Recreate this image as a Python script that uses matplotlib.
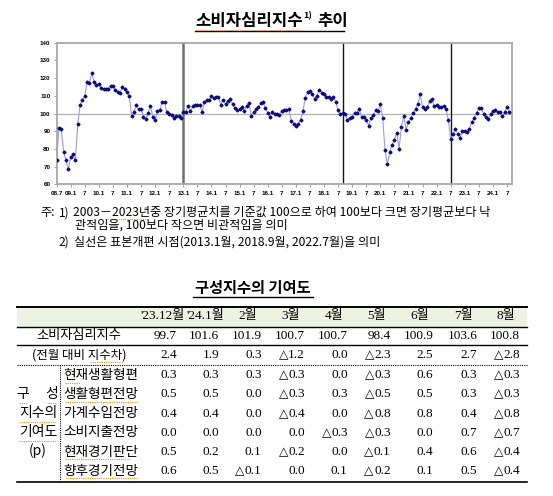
import numpy as np
import matplotlib.pyplot as plt

# ----------------------------------------------------------------------
# data
# ----------------------------------------------------------------------
# monthly consumer sentiment index, 2008.7 ~ 2024.8
ccsi = [74.0, 92.0, 91.0, 78.5, 73.5, 68.5, 75.5, 77.0, 73.5, 94.0,
        105.0, 107.5, 109.8, 117.8, 117.5, 122.6, 117.8, 116.3, 116.9, 114.2,
        114.0, 113.9, 113.9, 115.7, 115.6, 113.1, 112.1, 111.6, 115.0, 113.9,
        112.1, 110.0, 98.5, 101.0, 104.6, 102.3, 102.7, 97.9, 97.0, 100.2,
        104.4, 97.9, 96.6, 101.5, 101.9, 106.3, 106.6, 100.6, 99.8, 99.4,
        97.5, 98.7, 98.7, 97.5, 101.1, 100.8, 104.2, 101.3, 104.0, 104.9,
        104.7, 104.7, 101.1, 106.3, 107.8, 107.4, 109.9, 108.7, 109.3, 109.3,
        104.9, 107.8, 105.1, 107.2, 108.0, 105.5, 103.0, 101.7, 102.7, 103.6,
        101.5, 104.4, 106.1, 98.5, 100.8, 102.3, 103.6, 105.7, 106.3, 103.2,
        100.2, 98.1, 100.8, 99.6, 99.8, 98.9, 101.5, 101.9, 102.1, 102.4,
        96.0, 94.1, 93.0, 94.1, 96.6, 101.5, 108.7, 112.3, 112.5, 111.0,
        108.3, 110.0, 113.5, 111.8, 111.2, 109.5, 109.3, 108.2, 109.3, 106.5,
        101.9, 99.8, 100.4, 100.0, 96.2, 97.5, 98.1, 100.2, 100.4, 102.3,
        98.3, 98.3, 96.4, 93.2, 97.5, 99.0, 101.7, 101.3, 105.3, 97.5,
        79.1, 71.3, 78.2, 82.4, 85.0, 89.0, 80.2, 92.4, 98.7, 90.7,
        95.1, 97.3, 100.2, 102.3, 105.5, 110.8, 103.6, 102.5, 103.6, 107.0,
        108.2, 104.2, 104.7, 103.4, 103.4, 104.0, 102.7, 96.4, 85.6, 88.4,
        91.3, 88.4, 86.1, 89.9, 90.1, 89.8, 91.5, 95.1, 97.5, 100.4,
        103.2, 103.0, 99.8, 97.9, 96.8, 99.7, 101.6, 101.9, 100.7, 100.7,
        98.4, 100.9, 103.6, 100.8]

tick_labels = ["08.7", "09.1", "7", "10.1", "7", "11.1", "7", "12.1", "7",
               "13.1", "7", "14.1", "7", "15.1", "7", "16.1", "7", "17.1", "7",
               "18.1", "7", "19.1", "7", "20.1", "7", "21.1", "7", "22.1", "7",
               "23.1", "7", "24.1", "7"]

start_year, start_month = 2008, 7
revisions = [(2013, 1), (2018, 9), (2022, 7)]

# contribution table
col_labels = ["'23.12월", "'24.1월", "2월", "3월", "4월", "5월", "6월", "7월", "8월"]
ccsi_row = [99.7, 101.6, 101.9, 100.7, 100.7, 98.4, 100.9, 103.6, 100.8]
diff_row = [2.4, 1.9, 0.3, -1.2, 0.0, -2.3, 2.5, 2.7, -2.8]
comp_names = ["현재생활형편", "생활형편전망", "가계수입전망",
              "소비지출전망", "현재경기판단", "향후경기전망"]
cur_living = [0.3, 0.3, 0.3, -0.3, 0.0, -0.3, 0.6, 0.3, -0.3]
fut_living = [0.5, 0.5, 0.0, -0.3, 0.3, -0.5, 0.5, 0.3, -0.3]
income = [0.4, 0.4, 0.0, -0.4, 0.0, -0.8, 0.8, 0.4, -0.8]
spending = [0.0, 0.0, 0.0, 0.0, -0.3, -0.3, 0.0, 0.7, -0.7]
cur_econ = [0.5, 0.2, 0.1, -0.2, 0.0, -0.1, 0.4, 0.6, -0.4]
fut_econ = [0.6, 0.5, -0.1, 0.0, 0.1, -0.2, 0.1, 0.5, -0.4]
comp_rows = [cur_living, fut_living, income, spending, cur_econ, fut_econ]

# ----------------------------------------------------------------------
# figure + pixel overlay
# ----------------------------------------------------------------------
W, H = 553, 496
fig = plt.figure(figsize=(W / 100, H / 100), dpi=100)
fig.patch.set_facecolor('white')

ov = fig.add_axes([0, 0, 1, 1])
ov.set_xlim(0, W)
ov.set_ylim(H, 0)
ov.axis('off')

KR = ['Noto Sans CJK KR', 'DejaVu Sans']
NUM = ['Liberation Serif', 'Noto Sans CJK KR', 'DejaVu Serif']
SPELL = '#e8901e'
renderer = fig.canvas.get_renderer()

def spell(x0, x1, y):
    ov.plot([x0, x1], [y, y], color=SPELL, lw=0.8, ls=(0, (1, 1)))

def right_px(t):
    # right edge of a text object, in overlay pixel coords
    bb = t.get_window_extent(renderer=renderer)
    return bb.x1

# ---- title ----------------------------------------------------------
t1 = ov.text(195, 21, "소비자심리지수", family=KR, fontsize=12, fontweight='bold',
             ha='left', va='center')
x_sup = right_px(t1) + 0.5
t2 = ov.text(x_sup, 16, "1)", family=KR, fontsize=6.5, fontweight='bold',
             ha='left', va='center')
x_end = right_px(t2) + 5
ov.text(x_end, 21, "추이", family=KR, fontsize=12, fontweight='bold',
        ha='left', va='center')
ov.plot([195, 344], [31, 31], color='black', lw=1.0)
spell(195, 300, 29.5)

# ---- line chart -----------------------------------------------------
ax = fig.add_axes([56.6 / W, 1 - 184.3 / H, 455.1 / W, 141.6 / H])
x = np.arange(len(ccsi))
ax.axhline(100, color='#b4b4b4', lw=0.9, zorder=1)
for k, (yy, mm) in enumerate(revisions):
    idx = (yy - start_year) * 12 + (mm - start_month)
    if k == 0:
        ax.axvline(idx, color='#707070', lw=1.8, zorder=1)
    else:
        ax.axvline(idx, color='#151515', lw=1.0, zorder=1)
ax.plot(x, ccsi, color='#9c9ce0', lw=0.8, marker='D', markersize=1.5,
        markerfacecolor='#0a0a80', markeredgecolor='#0a0a80', zorder=3)

ax.set_xlim(0, 194)
ax.set_ylim(60, 140)
ax.set_yticks(np.arange(60, 141, 10))
ax.set_xticks(np.arange(0, len(ccsi), 6))
ax.set_xticklabels(tick_labels)
for lab in ax.get_xticklabels() + ax.get_yticklabels():
    lab.set_family('Liberation Sans')
    lab.set_fontweight('bold')
    lab.set_fontsize(4.5)
ax.tick_params(axis='both', length=2, width=0.6, color='#909090', pad=2.5)
for sp in ax.spines.values():
    sp.set_color('#a8a8a8')
    sp.set_linewidth(1.3)

# ---- notes ----------------------------------------------------------
NFS = 8.7
ov.text(40, 212.7, "주:", family=KR, fontsize=NFS, ha='left', va='center')
ov.text(59, 212.7, "1)", family=KR, fontsize=NFS, ha='left', va='center')
ov.text(73, 212.7, "2003－2023년중 장기평균치를 기준값 100으로 하여 100보다 크면 장기평균보다 낙",
        family=KR, fontsize=NFS, ha='left', va='center')
ov.text(75, 225, "관적임을, 100보다 작으면 비관적임을 의미",
        family=KR, fontsize=NFS, ha='left', va='center')
ov.text(58, 241.7, "2)", family=KR, fontsize=NFS, ha='left', va='center')
ov.text(74, 241.7, "실선은 표본개편 시점(2013.1월, 2018.9월, 2022.7월)을 의미",
        family=KR, fontsize=NFS, ha='left', va='center')
spell(107, 148, 219)

# ---- table title ----------------------------------------------------
ov.text(253, 288, "구성지수의 기여도", family=KR, fontsize=11, fontweight='bold',
        ha='center', va='center')
ov.plot([193, 313], [297, 297], color='black', lw=1.0)

# ---- table ----------------------------------------------------------
tx0, tx1 = 17, 527
ov.add_patch(plt.Rectangle((tx0, 306.7), tx1 - tx0, 20, color='#eef2e3', lw=0))
ov.plot([tx0, tx1], [306.7, 306.7], color='black', lw=1.4)
ov.plot([tx0, tx1], [326.7, 326.7], color='black', lw=1.0)
ov.plot([tx0, tx1], [345.3, 345.3], color='black', lw=1.0)
ov.plot([tx0, tx1], [365, 365], color='black', lw=0.8, ls=(0, (1, 1)))
ov.plot([tx0, tx1], [482.3, 482.3], color='black', lw=1.2)
ov.plot([60, 60], [365, 482.3], color='black', lw=0.8, ls=(0, (1, 1)))

col_right = [176.7, 219.3, 261.7, 305, 347.7, 390.7, 433.3, 477.3, 520]
TFS = 9.5

def put_val(cx, y, v):
    s = "%.1f" % abs(v)
    t = ov.text(cx, y, s, family=NUM, fontsize=TFS, ha='right', va='center')
    if v < 0:
        x0 = t.get_window_extent(renderer=renderer).x0
        ov.text(x0 - 0.3, y - 0.2, "△", family=['DejaVu Sans'], fontsize=8.8,
                ha='right', va='center')

for cx, lab in zip(col_right, col_labels):
    ov.text(cx - 14, 316.5, lab, family=NUM, fontsize=TFS, ha='center', va='center')

ov.text(79, 335.7, "소비자심리지수", family=KR, fontsize=9.5, ha='center', va='center')
ov.text(79, 355, "(전월 대비 지수차)", family=KR, fontsize=9, ha='center', va='center')
spell(90, 123, 361.5)
for cx, v in zip(col_right, ccsi_row):
    ov.text(cx, 336, "%.1f" % v, family=NUM, fontsize=TFS, ha='right', va='center')
for cx, v in zip(col_right, diff_row):
    put_val(cx, 355.3, v)

row_y = [375, 394, 413.3, 432.3, 451.7, 470.7]
for ry, name, vals in zip(row_y, comp_names, comp_rows):
    ov.text(63, ry, name, family=KR, fontsize=9.8, ha='left', va='center')
    for cx, v in zip(col_right, vals):
        put_val(cx, ry + 0.3, v)

ov.text(23, 394, "구", family=KR, fontsize=10, ha='center', va='center')
ov.text(52, 394, "성", family=KR, fontsize=10, ha='center', va='center')
for gy, g in zip([413.3, 432.3, 450.5], ["지수의", "기여도", "(p)"]):
    ov.text(38, gy, g, family=KR, fontsize=10, ha='center', va='center')

spell(19, 27, 402.5)
spell(48, 57, 402.5)
spell(19, 57, 421.5)
spell(19, 57, 440.5)
spell(65, 80, 382.5)
spell(65, 137, 401.5)
spell(65, 130, 459)
spell(65, 137, 478)

fig.savefig('out.png', dpi=100, facecolor='white')
